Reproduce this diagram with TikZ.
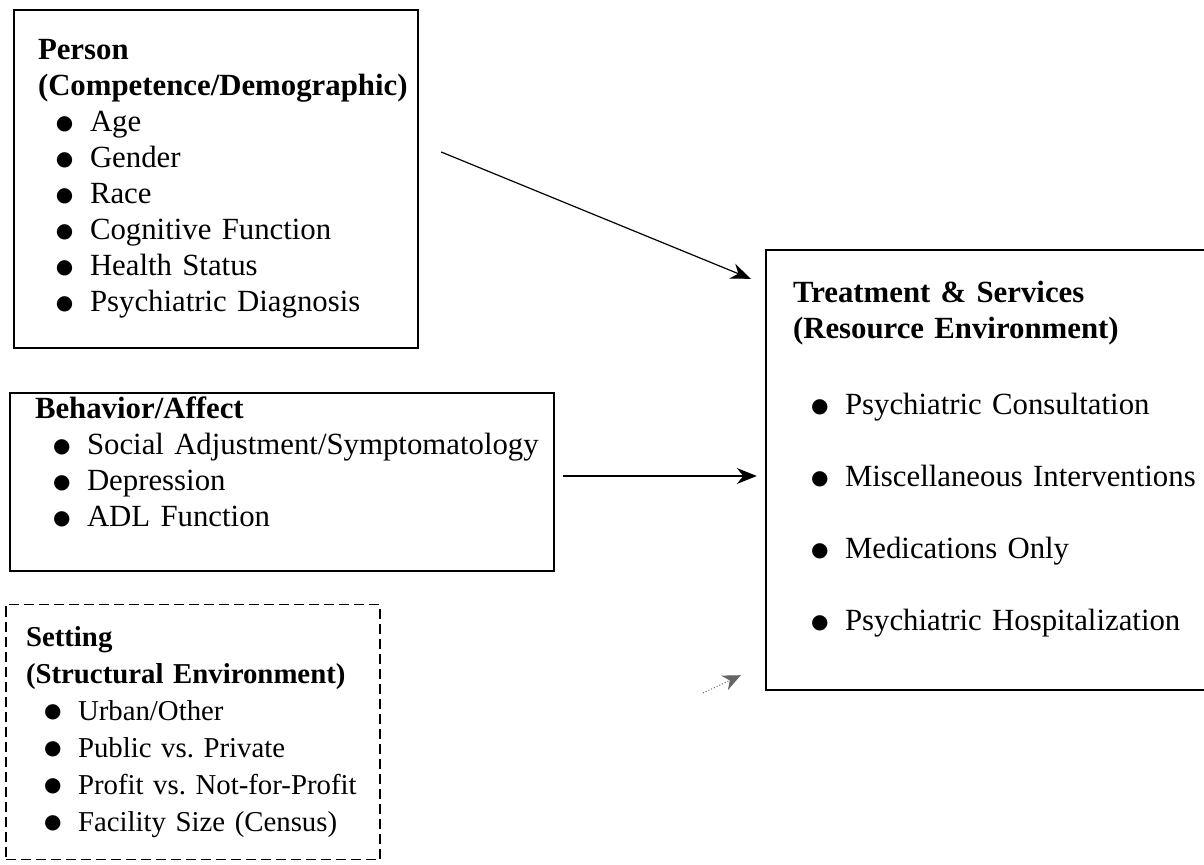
\documentclass[tikz,border=0pt]{standalone}
\usepackage{fontspec}
\setmainfont{Liberation Serif}
\newfontfamily\dotfont{DejaVu Sans}
\usetikzlibrary{positioning,arrows.meta}
\newcommand{\itm}[1]{\mbox{\hspace*{9pt}\makebox[17pt][l]{\raisebox{1.2pt}{\dotfont\fontsize{10}{10}\selectfont ●}}#1}}
\newcommand{\hd}[1]{\mbox{\textbf{#1}}}
\tikzset{
  panel/.style={draw=black, line width=1.2pt, align=left, inner ysep=0pt,
    font=\fontsize{15.4}{18}\selectfont, text=black},
  dpanel/.style={panel, dash pattern=on 5pt off 2.5pt, line width=0.8pt,
    font=\fontsize{14.4}{18.5}\selectfont},
  flow/.style={-{Stealth[length=10pt,width=8pt]}, line width=0.6pt, draw=black},
  stub/.style={-{Stealth[length=9pt,width=8pt]}, line width=0.5pt, densely dotted, draw=black!60},
}
\begin{document}
\begin{tikzpicture}[x=0.5pt,y=-0.5pt]
  \useasboundingbox (0,0) rectangle (1204,865);
  \node[panel, inner xsep=12pt, text width=178pt, minimum height=169pt] (person) at (216,179)
    {\hd{Person}\\\hd{(Competence/Demographic)}\\\itm{Age}\\\itm{Gender}\\\itm{Race}\\
     \itm{Cognitive Function}\\\itm{Health Status}\\\itm{Psychiatric Diagnosis}};
  \node[panel, inner xsep=12.5pt, text width=247pt, minimum height=89pt] (behav) at (282,482)
    {\hd{Behavior/Affect}\\\itm{Social Adjustment/Symptomatology}\\\itm{Depression}\\
     \itm{ADL Function}\rule[-20pt]{0pt}{0pt}};
  \node[dpanel, inner xsep=10pt, text width=167pt, minimum height=127.5pt] (setting) at (193,732)
    {\hd{Setting}\\\hd{(Structural Environment)}\\\itm{Urban/Other}\\\itm{Public vs.\ Private}\\
     \itm{Profit vs.\ Not-for-Profit}\\\itm{Facility Size (Census)}};
  \node[panel, inner xsep=13.5pt, text width=195pt, minimum height=220pt] (treat) at (988,470)
    {\hd{Treatment \& Services}\\\hd{(Resource Environment)}\\[20pt]
     \itm{Psychiatric Consultation}\\[18pt]\itm{Miscellaneous Interventions}\\[18pt]
     \itm{Medications Only}\\[18pt]\itm{Psychiatric Hospitalization}\rule[-14pt]{0pt}{0pt}};
  \coordinate (stubtail) at (703,693);
  \draw[flow] ([xshift=11pt,yshift=13.5pt]person.east) -- ([xshift=-7pt,yshift=-15pt]treat.north west);
  \draw[flow] ([xshift=4pt,yshift=3pt]behav.east) -- ([xshift=-4pt,yshift=-3pt]treat.west);
  \draw[stub] (stubtail) -- ([xshift=-12pt,yshift=8pt]treat.south west);
\end{tikzpicture}
\end{document}
